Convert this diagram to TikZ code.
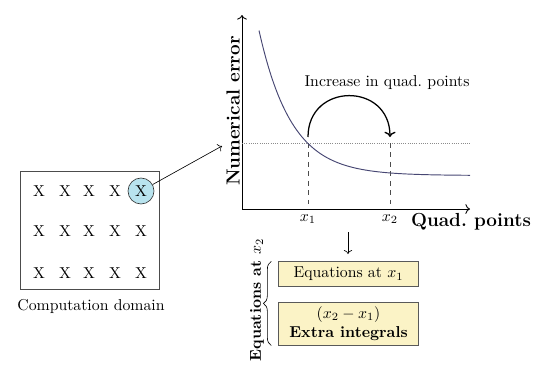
\documentclass[tikz,border=0pt]{standalone}
\usepackage{amsmath}
\usepackage{amssymb}
\usepackage{xcolor}
\usepackage{tikz}
\usetikzlibrary{arrows, arrows.meta, decorations.pathreplacing}
\definecolor{eqfill}{HTML}{FBF3C6}
\definecolor{ptfill}{HTML}{B8E3EE}
\definecolor{curvecol}{rgb}{0.28,0.28,0.45}
\tikzset{
  domainbox/.style = {draw=black!70, semithick, minimum width=3.08cm, minimum height=2.61cm},
  eqbox/.style = {draw=black!65, semithick, fill=eqfill, minimum width=3.14cm, align=center},
  hlpoint/.style = {circle, draw=black!80, fill=ptfill, minimum size=0.58cm, inner sep=0pt},
  axislabel/.style = {font=\large\bfseries}
}

\begin{document}
\begin{tikzpicture}[x=0.0223cm, y=-0.0223cm]
  \useasboundingbox (0,0) rectangle (540,383);

  \node[domainbox] (dom) at (90,230.5) {};
  \node (dl) at (91,306) {Computation domain};

  \foreach \i/\xx in {1/39, 2/65, 3/89, 4/115, 5/141}
    \foreach \j/\yy in {1/191, 2/231, 3/273}
      \node (x\i\j) at (\xx,\yy) {X};
  \node[hlpoint] (hl) at (141,191) {X};

  \coordinate (tip) at (222,146);
  \draw[->] (hl) -- (tip);

  \coordinate (o) at (242,209);
  \coordinate (ytop) at (242,15);
  \coordinate (xend) at (470,209);
  \draw[->, semithick] (o) -- (ytop);
  \draw[->, semithick] (o) -- (xend);
  \node[axislabel, rotate=90] (ne) at (233,111) {Numerical error};
  \node[axislabel] (qp) at (471,222) {Quad.\ points};

  \coordinate (dl1) at (242,143);
  \coordinate (dl2) at (470,143);
  \draw[densely dotted, black!45] (dl1) -- (dl2);

  \coordinate (p1) at (308,143);
  \coordinate (p2) at (390,143);
  \node (a) at (308,219) {$x_1$};
  \node (b) at (390,219) {$x_2$};
  \draw[dashed, black!70] (p1) -- (308,209);
  \draw[dashed, black!70] (p2) -- (390,209);

  \draw[curvecol, semithick] plot[domain=259:470, samples=90] (\x, {175.5-145*exp(-0.0308*(\x-259))});

  \coordinate (s) at (308,137);
  \coordinate (e) at (390,137);
  \draw[->, thick] (s) .. controls +(0,-55) and +(0,-55) .. (e);
  \node (inc) at (387,83) {Increase in quad.\ points};

  \coordinate (ds) at (348,232);
  \coordinate (de) at (348,254);
  \draw[->] (ds) -- (de);

  \node[eqbox, minimum height=0.535cm] (eq1) at (348.5,274) {Equations at $x_1$};
  \node[eqbox, minimum height=0.96cm, inner sep=1pt] (eq2) at (348.5,323.5) {$(x_2 - x_1)$\\ \textbf{Extra integrals}};

  \draw[decorate, decoration={brace, amplitude=5pt}]
    ([xshift=-4pt]eq2.south west) -- ([xshift=-4pt]eq1.north west);
  \node[font=\bfseries, rotate=90] (eqx) at (257,300) {Equations at $x_2$};

\end{tikzpicture}
\end{document}
